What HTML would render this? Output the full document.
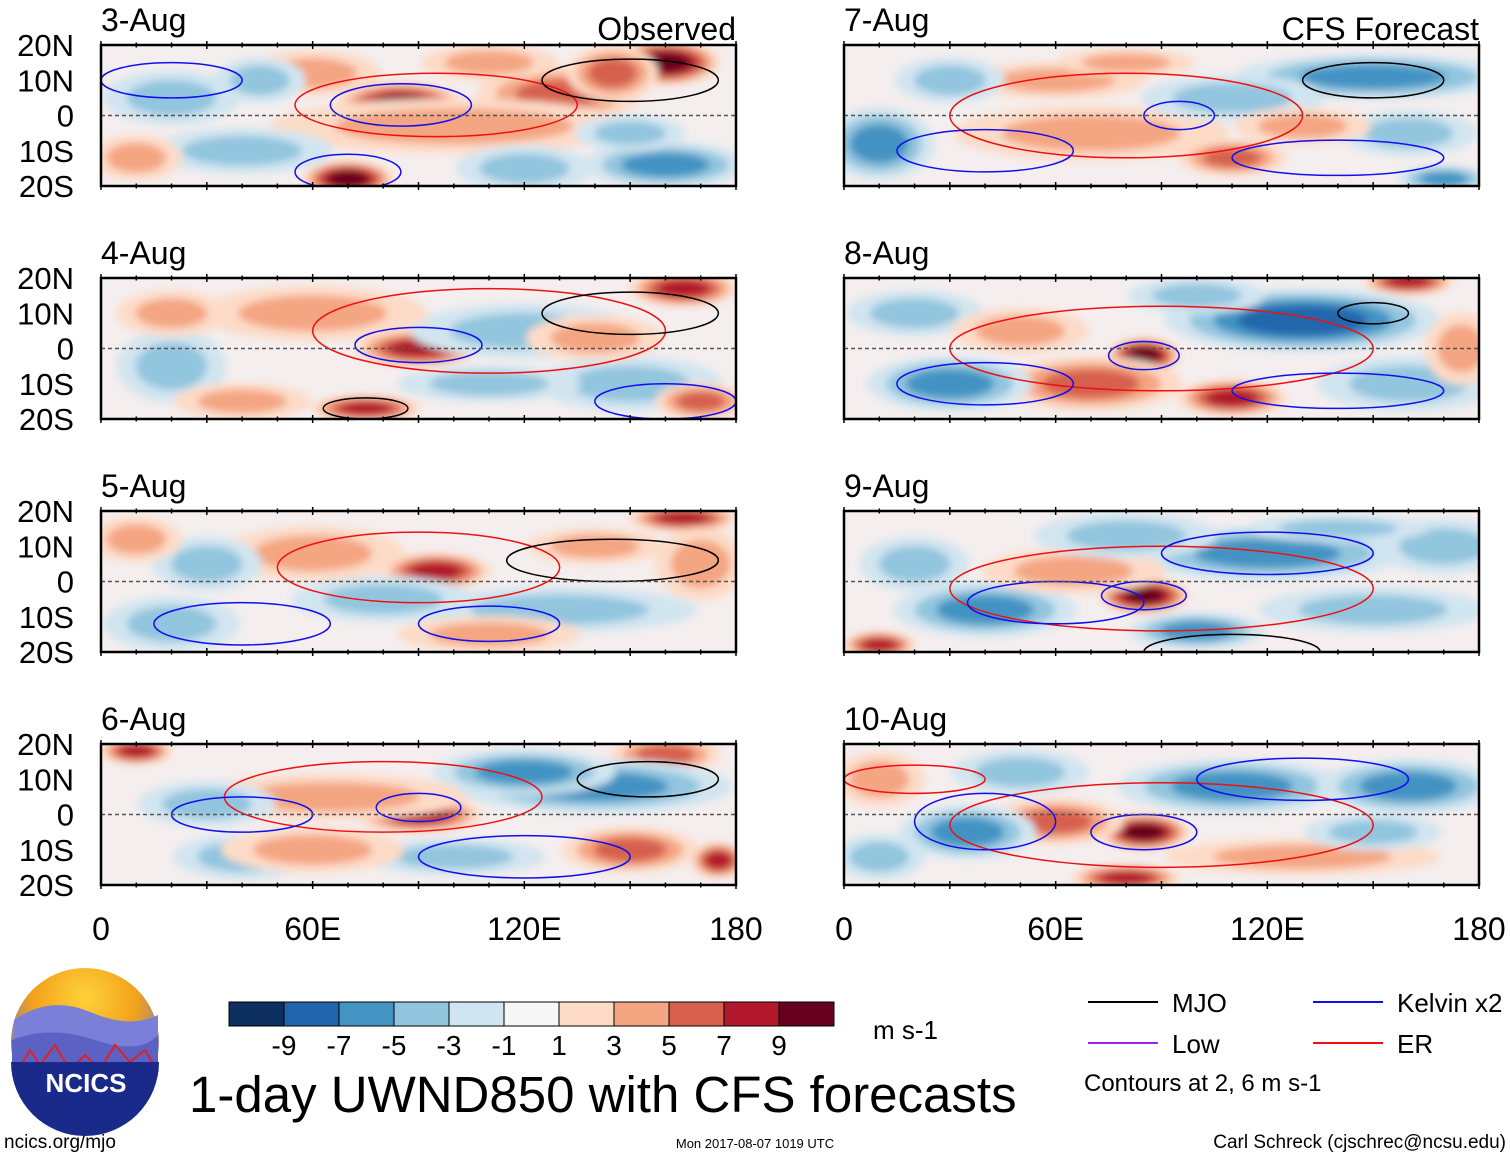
<!DOCTYPE html>
<html><head><meta charset="utf-8">
<style>
body{margin:0;background:#fff;font-family:"Liberation Sans",sans-serif;}
svg text{font-family:"Liberation Sans",sans-serif;}
</style></head>
<body>
<svg id="chart" width="1510" height="1158" viewBox="0 0 1510 1158" xmlns="http://www.w3.org/2000/svg">
<defs>
<filter id="blur" x="-50%" y="-50%" width="200%" height="200%"><feGaussianBlur stdDeviation="4"/></filter>
<radialGradient id="sky" cx="50%" cy="20%" r="70%"><stop offset="0" stop-color="#ffd23a"/><stop offset="0.5" stop-color="#f3a21b"/><stop offset="1" stop-color="#6a6fd0"/></radialGradient>
</defs>
<g id="panels"></g>
<g id="legend"></g>
</svg>
<script>
const panelDates = ['3-Aug','4-Aug','5-Aug','6-Aug','7-Aug','8-Aug','9-Aug','10-Aug'];
const latTicks = ['20N','10N','0','10S','20S'];
const latValues = [20,10,0,-10,-20];
const lonTicks = ['0','60E','120E','180'];
const lonValues = [0,60,120,180];
const cbarLevels = ['-9','-7','-5','-3','-1','1','3','5','7','9'];
const cbarColors = ['#0d2f60','#2166ac','#4393c3','#92c5de','#d1e5f0','#f7f7f7','#fddbc7','#f4a582','#d6604d','#b2182b','#67001f'];
// blobs: [lon, lat, value, lonRadius, latRadius]
const blobs0 = [[85,3,9,14,5],[160,15,9,12,5],[130,6,6,18,6],[70,-18,9,10,4],[20,5,-4,15,6],[160,-14,-5,18,5],[100,-3,3,40,6],[40,-10,-3,20,5],[145,12,5,10,6],[120,-15,-4,15,5],[10,-12,3,10,5],[60,12,3,15,5],[110,15,3,15,4],[45,10,-3,10,5],[150,-5,-3,12,4]];
const blobs1 = [[90,0,8,14,4],[165,17,8,12,4],[75,-17,7,12,3],[120,5,-3,25,6],[60,10,3,25,6],[20,-5,-3,12,8],[150,-10,-4,20,6],[170,-15,5,10,4],[40,-15,3,15,4],[20,10,3,12,5],[140,3,4,15,5],[110,-10,-3,20,4]];
const blobs2 = [[95,3,8,12,4],[165,18,7,12,3],[60,8,4,20,6],[130,-8,-4,30,5],[170,5,4,10,8],[20,-12,-3,15,6],[110,-15,4,20,4],[30,5,-3,12,6],[80,-5,-3,20,5],[140,10,3,15,4],[10,12,3,10,5]];
const blobs3 = [[90,0,8,14,4],[160,17,6,12,4],[65,5,4,30,5],[140,8,-6,30,6],[120,12,-5,20,5],[150,-10,5,15,5],[40,-12,-4,15,5],[175,-13,7,6,4],[10,18,7,8,3],[30,3,-3,15,5],[100,-12,-3,20,4],[60,-10,3,20,5]];
const blobs4 = [[95,0,9,8,4],[150,11,-6,30,5],[70,-5,4,30,6],[110,5,-4,20,5],[10,-8,-5,12,8],[170,-18,-6,10,3],[160,-5,-4,15,5],[60,10,4,20,4],[110,-12,5,12,4],[30,10,-3,12,5],[130,-3,3,15,4],[80,15,3,15,3]];
const blobs5 = [[85,-2,9,8,4],[130,8,-7,30,7],[70,-10,5,20,6],[30,-10,-5,18,6],[110,-14,7,12,4],[160,-10,-4,20,6],[175,0,4,8,8],[160,19,8,10,3],[20,10,-3,15,5],[100,15,-4,15,4],[50,5,3,15,5]];
const blobs6 = [[85,-4,9,10,4],[120,8,-6,30,6],[40,-8,-5,20,6],[65,3,4,20,5],[100,-14,-6,15,4],[150,-8,-4,25,5],[170,10,-3,15,6],[10,-18,7,8,3],[80,13,-3,20,5],[20,5,-3,12,6],[140,15,-4,20,3]];
const blobs7 = [[85,-5,9,10,4],[110,8,-6,25,6],[160,8,-5,20,6],[60,-2,5,15,5],[35,-5,-6,15,6],[130,-12,3,30,4],[80,-18,7,12,3],[50,12,-4,15,5],[10,10,4,10,6],[10,-12,-4,10,5],[150,-5,-3,15,4]];
const allBlobs = [blobs0,blobs1,blobs2,blobs3,blobs4,blobs5,blobs6,blobs7];
// contours: [lon, lat, lonRadius, latRadius, type]
const contours0 = [[85,3,20,6,'blue'],[95,3,40,9,'red'],[150,10,25,6,'black'],[70,-16,15,5,'blue'],[20,10,20,5,'blue']];
const contours1 = [[90,1,18,5,'blue'],[110,5,50,12,'red'],[150,10,25,6,'black'],[75,-17,12,3,'black'],[160,-15,20,5,'blue']];
const contours2 = [[90,4,40,10,'red'],[145,6,30,6,'black'],[40,-12,25,6,'blue'],[110,-12,20,5,'blue']];
const contours3 = [[90,2,12,4,'blue'],[80,5,45,10,'red'],[155,10,20,5,'black'],[120,-12,30,6,'blue'],[40,0,20,5,'blue']];
const contours4 = [[95,0,10,4,'blue'],[80,0,50,12,'red'],[150,10,20,5,'black'],[40,-10,25,6,'blue'],[140,-12,30,5,'blue']];
const contours5 = [[85,-2,10,4,'blue'],[90,0,60,12,'red'],[150,10,10,3,'black'],[40,-10,25,6,'blue'],[140,-12,30,5,'blue']];
const contours6 = [[85,-4,12,4,'blue'],[90,-2,60,12,'red'],[60,-6,25,6,'blue'],[110,-20,25,5,'black'],[120,8,30,6,'blue']];
const contours7 = [[85,-5,15,5,'blue'],[90,-3,60,12,'red'],[40,-2,20,8,'blue'],[130,10,30,6,'blue'],[20,10,20,4,'red']];
const allContours = [contours0,contours1,contours2,contours3,contours4,contours5,contours6,contours7];

const NS='http://www.w3.org/2000/svg';
function mk(tag, attrs, parent){const e=document.createElementNS(NS,tag);for(const k in attrs)e.setAttribute(k,attrs[k]);parent.appendChild(e);return e;}
function colorFor(v){let idx=Math.floor((v+11)/2);idx=Math.max(0,Math.min(10,idx));return cbarColors[idx];}
const contourColor={blue:'#1010ee',red:'#ee1010',black:'#000',purple:'#a020f0'};
const panelsG=document.getElementById('panels');
const PW=635, PH=141;
for(let p=0;p<8;p++){
  const col=p<4?0:1,row=p%4;
  const x0=col?844:101, y0=45+row*233;
  const xs=lon=>x0+lon/180*PW;
  const ys=lat=>y0+(20-lat)/40*PH;
  const g=mk('g',{},panelsG);
  
  
  const cp=mk('clipPath',{id:'clip'+p},g);
  mk('rect',{x:x0,y:y0,width:PW,height:PH},cp);
  const field=mk('g',{'clip-path':'url(#clip'+p+')'},g);
  
  
  mk('rect',{x:x0,y:y0,width:PW,height:PH,fill:'#f4eeee'},field);
  const bg=mk('g',{filter:'url(#blur)'},field);
  allBlobs[p].forEach(b=>{
    const [lon,lat,v,rl,rt]=b;const s=Math.sign(v);const n=Math.ceil(Math.abs(v)/2);
    for(let k=1;k<=n;k++){
      const f=(1-(k-1)/n*0.7)*1.3;
      const e=mk('ellipse',{cx:xs(lon),cy:ys(lat),rx:rl/180*PW*f,ry:rt/40*PH*f,fill:colorFor(s*(2*k-1+0.5))},bg);
      
      
    }
  });
  allContours[p].forEach(c=>{
    const e=mk('ellipse',{cx:xs(c[0]),cy:ys(c[1]),rx:c[2]/180*PW,ry:c[3]/40*PH,fill:'none',stroke:contourColor[c[4]],'stroke-width':1.5},field);
    
    
  });
  const eq=mk('line',{x1:x0,x2:x0+PW,y1:ys(0),y2:ys(0),stroke:'#555','stroke-dasharray':'4,3','stroke-width':1.5},g);
  
  
  mk('rect',{x:x0,y:y0,width:PW,height:PH,fill:'none',stroke:'#000','stroke-width':2.5},g);
  for(let lon=0;lon<=180;lon+=10){
    const L=lon%30===0?8:5;
    mk('line',{x1:xs(lon),x2:xs(lon),y1:y0-L/2,y2:y0+L/2,stroke:'#000','stroke-width':1.5},g);
    mk('line',{x1:xs(lon),x2:xs(lon),y1:y0+PH-L/2,y2:y0+PH+L/2,stroke:'#000','stroke-width':1.5},g);
  }
  const t=mk('text',{x:x0,y:y0-14,'font-size':32,fill:'#000'},g);t.textContent=panelDates[p];
  
  
  if(p===0||p===4){
    const h=mk('text',{x:x0+PW,y:y0-5,'font-size':32,'text-anchor':'end'},g);h.textContent=p===0?'Observed':'CFS Forecast';
    
    
  }
  if(col===0){
    latTicks.forEach((lb,i)=>{
      const tt=mk('text',{x:74,y:ys(latValues[i])+11,'font-size':31,'text-anchor':'end'},g);tt.textContent=lb;
      
      
    });
  }
  if(row===3){
    lonTicks.forEach((lb,i)=>{
      const tt=mk('text',{x:xs(lonValues[i]),y:940,'font-size':32,'text-anchor':'middle'},g);tt.textContent=lb;
      
      
    });
  }
}
// legend / colorbar
const lg=document.getElementById('legend');
const cb=mk('g',{},lg);


cbarColors.forEach((c,i)=>{mk('rect',{x:229+i*55,y:1002,width:55,height:24,fill:c,stroke:'#000','stroke-width':1},cb);});
cbarLevels.forEach((l,i)=>{const t=mk('text',{x:284+i*55,y:1055,'font-size':28,'text-anchor':'middle'},cb);t.textContent=l;});
function txt(x,y,s,str,name,anchor){const t=mk('text',{x:x,y:y,'font-size':s,'text-anchor':anchor||'start'},lg);t.textContent=str;return t;}
txt(873,1039,26,'m s-1','colorbar-units');
txt(189,1112,51,'1-day UWND850 with CFS forecasts','chart-title');
const keys=[[1088,1002,'black','MJO'],[1313,1002,'blue','Kelvin x2'],[1088,1043,'purple','Low'],[1313,1043,'red','ER']];
keys.forEach(k=>{mk('line',{x1:k[0],x2:k[0]+70,y1:k[1],y2:k[1],stroke:contourColor[k[2]],'stroke-width':2},lg);txt(k[0]+84,k[1]+10,26,k[3],'legend-entry');});
txt(1084,1091,24,'Contours at 2, 6 m s-1','contour-note');
txt(4,1148,19,'ncics.org/mjo','footer-url');
txt(755,1148,13,'Mon 2017-08-07 1019 UTC','footer-date','middle');
txt(1506,1148,19,'Carl Schreck (cjschrec@ncsu.edu)','footer-author','end');
// logo
const logo=mk('g',{},lg);


mk('circle',{cx:85,cy:1042,r:74,fill:'url(#sky)'},logo);
mk('path',{d:'M14,1020 Q50,995 90,1012 T158,1015 L158,1070 L14,1070 Z',fill:'#7a7fd8'},logo);
mk('path',{d:'M12,1040 Q50,1025 95,1040 T158,1035 L158,1075 L12,1075 Z',fill:'#5c62c4'},logo);
mk('path',{d:'M15,1075 L30,1050 L40,1065 L55,1045 L70,1070 L85,1055 L100,1070 L115,1045 L130,1062 L145,1050 L158,1072',fill:'none',stroke:'#e02020','stroke-width':2},logo);
mk('path',{d:'M11,1062 A74,74 0 0,0 159,1062 Z',fill:'#1a2a8a'},logo);
const lt=mk('text',{x:86,y:1092,'font-size':26,'font-weight':'bold','text-anchor':'middle',fill:'#fff'},logo);lt.textContent='NCICS';
</script>
</body></html>
